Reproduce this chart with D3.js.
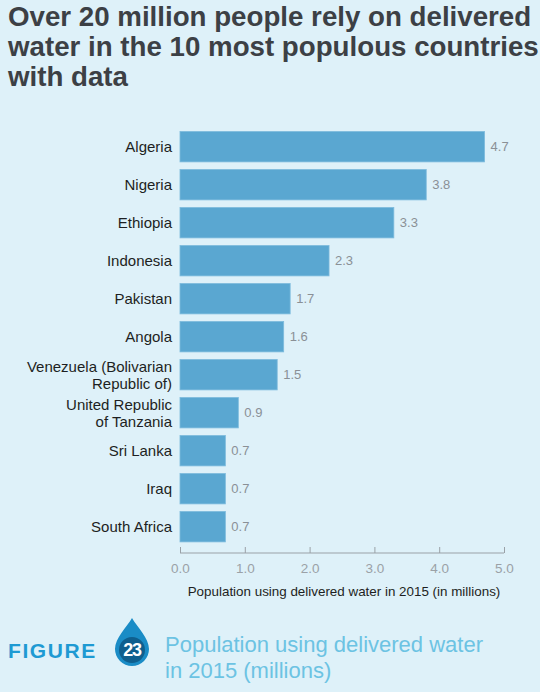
<!DOCTYPE html>
<html>
<head>
<meta charset="utf-8">
<script src="https://cdnjs.cloudflare.com/ajax/libs/d3/7.8.5/d3.min.js"></script>
<style>
  html, body { margin: 0; padding: 0; background: #def1f9; }
  text { font-family: "Liberation Sans", Arial, Helvetica, sans-serif; }
</style>
</head>
<body>
<div id="chart"></div>
<script>
// data
var countries = ["Algeria", "Nigeria", "Ethiopia", "Indonesia", "Pakistan", "Angola",
  "Venezuela (Bolivarian Republic of)", "United Republic of Tanzania", "Sri Lanka", "Iraq", "South Africa"];
var countryLabels = [["Algeria"], ["Nigeria"], ["Ethiopia"], ["Indonesia"], ["Pakistan"], ["Angola"],
  ["Venezuela (Bolivarian", "Republic of)"], ["United Republic", "of Tanzania"], ["Sri Lanka"], ["Iraq"], ["South Africa"]];
var values = [4.7, 3.8, 3.3, 2.3, 1.7, 1.6, 1.5, 0.9, 0.7, 0.7, 0.7];
var xTicks = [0, 1, 2, 3, 4, 5];
var titleLines = ["Over 20 million people rely on delivered",
  "water in the 10 most populous countries",
  "with data"];
var captionLines = ["Population using delivered water", "in 2015 (millions)"];

var width = 540, height = 692;

var svg = d3.select("#chart")
    .append("svg")
    .attr("width", width)
    .attr("height", height);

svg.append("rect")
    .attr("width", width)
    .attr("height", height)
    .attr("fill", "#def1f9");

// title
svg.append("g").selectAll("text")
    .data(titleLines)
    .enter()
    .append("text")
    .attr("x", 8)
    .attr("y", function (d, i) { return 26 + i * 30; })
    .attr("font-size", "27.7px")
    .attr("font-weight", "bold")
    .attr("fill", "#3c4045")
    .text(function (d) { return d; });

// scales
var xScale = d3.scaleLinear()
    .domain([0, 5])
    .range([180, 504]);

var yScale = d3.scaleBand()
    .domain(countries)
    .range([127.7, 545.7])
    .paddingInner(0.2)
    .paddingOuter(0.1);

// bars
svg.append("g").selectAll("rect")
    .data(countries)
    .enter()
    .append("rect")
    .attr("x", xScale(0))
    .attr("y", function (d) { return yScale(d); })
    .attr("width", function (d, i) { return xScale(values[i]) - xScale(0); })
    .attr("height", yScale.bandwidth())
    .attr("fill", "#5aa7d1")
    .attr("stroke", "#7dbbdd")
    .attr("stroke-width", 0.8);

// value labels
svg.append("g").selectAll("text")
    .data(countries)
    .enter()
    .append("text")
    .attr("x", function (d, i) { return xScale(values[i]) + 6; })
    .attr("y", function (d) { return yScale(d) + yScale.bandwidth() / 2; })
    .attr("dy", "0.36em")
    .attr("font-size", "13px")
    .attr("fill", "#8a9096")
    .text(function (d, i) { return d3.format(".1f")(values[i]); });

// category labels
var labels = svg.append("g").selectAll("text")
    .data(countries)
    .enter()
    .append("text")
    .attr("text-anchor", "end")
    .attr("font-size", "15px")
    .attr("fill", "#1d1f22");

labels.each(function (d, i) {
    var lines = countryLabels[i];
    var cy = yScale(d) + yScale.bandwidth() / 2;
    var lh = 17;
    var startY = cy - (lines.length - 1) * lh / 2;
    d3.select(this).selectAll("tspan")
        .data(lines)
        .enter()
        .append("tspan")
        .attr("x", 172)
        .attr("y", function (l, j) { return startY + j * lh; })
        .attr("dy", "0.36em")
        .text(function (l) { return l; });
});

// x axis, ticks pointing up
var xAxis = d3.axisBottom()
    .scale(xScale)
    .tickValues(xTicks)
    .tickSize(-6)
    .tickPadding(10)
    .tickFormat(d3.format(".1f"));

var axisG = svg.append("g")
    .attr("transform", "translate(0,553)")
    .call(xAxis);

axisG.select(".domain")
    .attr("d", "M" + xScale(0) + ",0H" + xScale(5))
    .attr("stroke", "#9aa1a7");
axisG.selectAll(".tick line").attr("stroke", "#9aa1a7");
axisG.selectAll(".tick text")
    .attr("font-size", "13.5px")
    .attr("font-family", "Liberation Sans, Arial, sans-serif")
    .attr("fill", "#9ba1a7");

svg.append("text")
    .attr("x", 344)
    .attr("y", 596)
    .attr("text-anchor", "middle")
    .attr("font-size", "13.4px")
    .attr("fill", "#1d1f22")
    .text("Population using delivered water in 2015 (in millions)");

// figure caption
svg.append("text")
    .attr("x", 8)
    .attr("y", 658)
    .attr("font-size", "21px")
    .attr("font-weight", "bold")
    .attr("letter-spacing", "1.6px")
    .attr("fill", "#1e9ad3")
    .text("FIGURE");

// water drop
var drop = svg.append("g").attr("transform", "translate(132,648)");
drop.append("path")
    .attr("d", "M0,-30 C5,-21 17,-10 17,1 A17,17 0 1 1 -17,1 C-17,-10 -5,-21 0,-30 Z")
    .attr("fill", "#1a8cc6");
drop.append("circle")
    .attr("cx", 0)
    .attr("cy", 2)
    .attr("r", 13)
    .attr("fill", "#0f5f8e");
drop.append("text")
    .attr("x", 0)
    .attr("y", 2)
    .attr("dy", "0.36em")
    .attr("text-anchor", "middle")
    .attr("font-size", "18px")
    .attr("font-weight", "bold")
    .attr("letter-spacing", "-1.2px")
    .attr("fill", "#ffffff")
    .text("23");

svg.append("g").selectAll("text")
    .data(captionLines)
    .enter()
    .append("text")
    .attr("x", 165)
    .attr("y", function (d, i) { return 652 + i * 26; })
    .attr("font-size", "22px")
    .attr("fill", "#6cc3e3")
    .text(function (d) { return d; });
</script>
</body>
</html>
